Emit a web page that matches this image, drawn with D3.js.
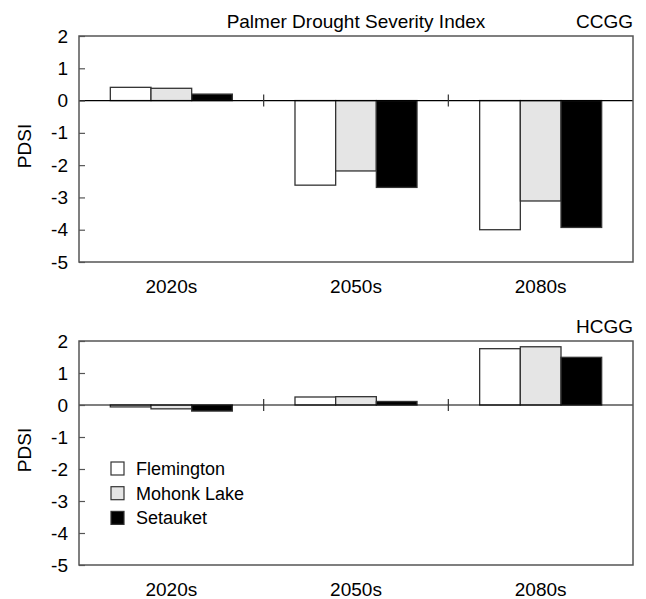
<html>
<head>
<meta charset="utf-8">
<script src="https://d3js.org/d3.v7.min.js"></script>
<style>
  body { margin: 0; background: #fff; }
  text { font-family: "Liberation Sans", Arial, sans-serif; fill: #000; }
  .y.axis .domain { stroke: none; }
  .y.axis line { stroke: #555; stroke-width: 1.2; }
</style>
</head>
<body>
<svg id="chart" width="646" height="599"></svg>
<script>
// data
const categories = ["2020s", "2050s", "2080s"];
const stations = ["Flemington", "Mohonk Lake", "Setauket"];
const yTicks = [-5, -4, -3, -2, -1, 0, 1, 2];

const ccggFlemington = [0.41, -2.62, -4.00];
const ccggMohonk     = [0.38, -2.18, -3.11];
const ccggSetauket   = [0.20, -2.69, -3.93];

const hcggFlemington = [-0.06, 0.25, 1.76];
const hcggMohonk     = [-0.12, 0.26, 1.82];
const hcggSetauket   = [-0.19, 0.11, 1.49];

const fills = ["#ffffff", "#e5e5e5", "#000000"];
const fontSize = 19;

const svg = d3.select("svg#chart");

const left = 79, right = 633;

const xScale = d3.scaleBand().domain(categories).range([left, right]).paddingInner(0).paddingOuter(0);
const xSub = d3.scaleBand().domain(stations).range([0, xScale.bandwidth()]).paddingInner(0).paddingOuter(0.77);

function drawPanel(top, bottom, series, tag, title, showLegend) {
    const yScale = d3.scaleLinear().domain([-5, 2]).range([bottom, top]);
    const g = svg.append("g");

    // bars
    categories.forEach((c, i) => {
        stations.forEach((s, j) => {
            const v = series[j][i];
            g.append("rect")
                .attr("x", xScale(c) + xSub(s))
                .attr("y", yScale(Math.max(v, 0)))
                .attr("width", xSub.bandwidth())
                .attr("height", Math.abs(yScale(v) - yScale(0)))
                .attr("fill", fills[j])
                .attr("stroke", "#333")
                .attr("stroke-width", 1.3);
        });
    });

    // zero line
    g.append("line")
        .attr("x1", left).attr("x2", right)
        .attr("y1", yScale(0)).attr("y2", yScale(0))
        .attr("stroke", "#000").attr("stroke-width", 1.2);

    // category separators on the zero line
    categories.slice(1).forEach(c => {
        g.append("line")
            .attr("x1", xScale(c)).attr("x2", xScale(c))
            .attr("y1", yScale(0) - 6).attr("y2", yScale(0) + 6)
            .attr("stroke", "#333").attr("stroke-width", 1.2);
    });

    // frame
    g.append("rect")
        .attr("x", left).attr("y", top)
        .attr("width", right - left).attr("height", bottom - top)
        .attr("fill", "none").attr("stroke", "#555").attr("stroke-width", 1.5);

    // y axis
    const leftAxis = d3.axisLeft(yScale).tickValues(yTicks).tickSizeInner(-6).tickSizeOuter(0).tickPadding(11).tickFormat(d => String(d));
    g.append("g")
        .attr("class", "y axis")
        .attr("transform", `translate(${left},0)`)
        .call(leftAxis)
        .selectAll("text")
        .attr("font-size", fontSize)
        .attr("font-family", "Liberation Sans, Arial, sans-serif")
        .attr("fill", "#000");

    // y label
    g.append("text")
        .attr("transform", `translate(31,${(top + bottom) / 2 - 3}) rotate(-90)`)
        .attr("text-anchor", "middle")
        .attr("font-size", fontSize)
        .text("PDSI");

    // category labels
    categories.forEach(c => {
        g.append("text")
            .attr("x", xScale(c) + xScale.bandwidth() / 2)
            .attr("y", bottom + 31)
            .attr("text-anchor", "middle")
            .attr("font-size", fontSize)
            .text(c);
    });

    // tag and title
    g.append("text")
        .attr("x", right).attr("y", top - 8)
        .attr("text-anchor", "end")
        .attr("font-size", fontSize)
        .text(tag);
    if (title) {
        g.append("text")
            .attr("x", (left + right) / 2).attr("y", top - 8)
            .attr("text-anchor", "middle")
            .attr("font-size", fontSize)
            .text(title);
    }

    if (showLegend) {
        stations.forEach((s, j) => {
            const ly = 462 + j * 24.7;
            g.append("rect")
                .attr("x", 111).attr("y", ly)
                .attr("width", 13).attr("height", 13)
                .attr("fill", fills[j]).attr("stroke", "#333").attr("stroke-width", 1.2);
            g.append("text")
                .attr("x", 136).attr("y", ly + 13)
                .attr("font-size", 18)
                .text(s);
        });
    }
}

drawPanel(36, 262, [ccggFlemington, ccggMohonk, ccggSetauket], "CCGG", "Palmer Drought Severity Index", false);
drawPanel(341, 565, [hcggFlemington, hcggMohonk, hcggSetauket], "HCGG", null, true);
</script>
</body>
</html>
